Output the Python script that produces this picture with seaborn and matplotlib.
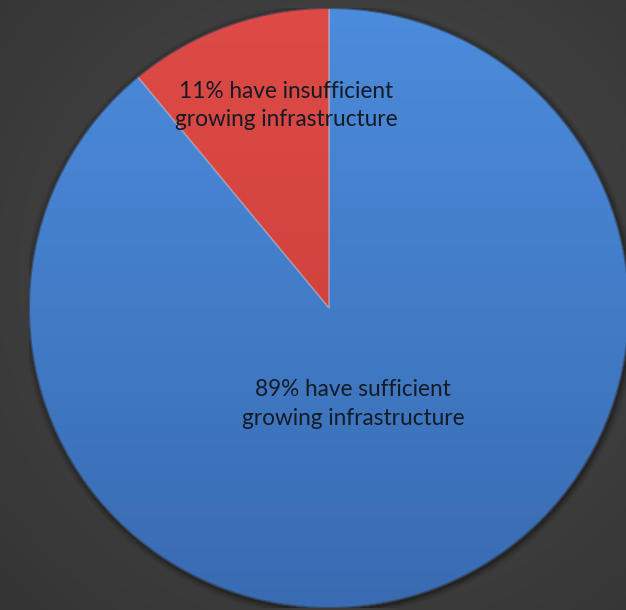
import numpy as np
import matplotlib
matplotlib.use("Agg")
import matplotlib.pyplot as plt
from matplotlib.colors import LinearSegmentedColormap
import seaborn as sns

sns.set_theme(style="white")
plt.rcParams["font.family"] = ["Lato", "DejaVu Sans"]

# Survey shares
labels = ["11% have insufficient\ngrowing infrastructure",
          "89% have sufficient\ngrowing infrastructure"]
shares = [11, 89]
colors = ["#d8433f", "#4683d1"]
top_colors = ["#de4b46", "#4c8cdc"]
bottom_colors = ["#c53a36", "#386bb2"]
label_pos = [(-0.143, 0.675), (0.08, -0.32)]

W, H = 626, 610
fig = plt.figure(figsize=(W / 100, H / 100), dpi=100)

# dark radial backdrop
bg = fig.add_axes([0, 0, 1, 1])
yy, xx = np.mgrid[0:1:400j, 0:1:400j]
r = np.sqrt((xx - 0.55) ** 2 + (yy - 0.45) ** 2)
bg_cmap = LinearSegmentedColormap.from_list("bg", ["#4b4b4b", "#343434"])
bg.imshow(r, cmap=bg_cmap, extent=[0, 1, 0, 1], aspect="auto", origin="upper",
          vmin=0, vmax=0.8)
bg.set_axis_off()

# pie axes: center at (329, 308) px, radius 300 px
cx, cy, rad = 329, 308, 300
ax = fig.add_axes([(cx - rad) / W, (H - cy - rad) / H, 2 * rad / W, 2 * rad / H])
ax.set_axis_off()

# soft shadow around the disc
for k, a in enumerate(np.linspace(0.12, 0.02, 6)):
    ax.add_patch(plt.Circle((0.004, -0.006), 1.0 + 0.004 * (k + 1),
                            color="black", alpha=a, lw=0, zorder=0))

wedges, _ = ax.pie(shares, colors=colors, startangle=90, counterclock=True,
                   radius=1.0, wedgeprops=dict(linewidth=0))
ax.set_xlim(-1, 1)
ax.set_ylim(-1, 1)
ax.set_aspect("auto")

# vertical shading inside each slice
grad = np.linspace(0, 1, 256).reshape(-1, 1)
for w, c0, c1 in zip(wedges, top_colors, bottom_colors):
    cm = LinearSegmentedColormap.from_list("g", [c0, c1])
    im = ax.imshow(grad, cmap=cm, extent=[-1, 1, -1, 1], aspect="auto",
                   origin="upper", zorder=1.5)
    im.set_clip_path(w)
    w.set_zorder(1)

# bevel highlight along slice borders
for w in wedges:
    ax.add_patch(matplotlib.patches.Wedge(w.center, w.r, w.theta1, w.theta2,
                                          fill=False, ec="white", lw=1.2,
                                          alpha=0.18, zorder=2))
ax.add_patch(plt.Circle((0, 0), 1.0, fill=False, ec="#1e2a3a", lw=1.5,
                        alpha=0.6, zorder=2))

for txt, (x, y) in zip(labels, label_pos):
    ax.text(x, y, txt, ha="center", va="center", fontsize=16.3,
            color="#141a26", linespacing=1.45, zorder=3)

fig.savefig("out.png", dpi=100)
